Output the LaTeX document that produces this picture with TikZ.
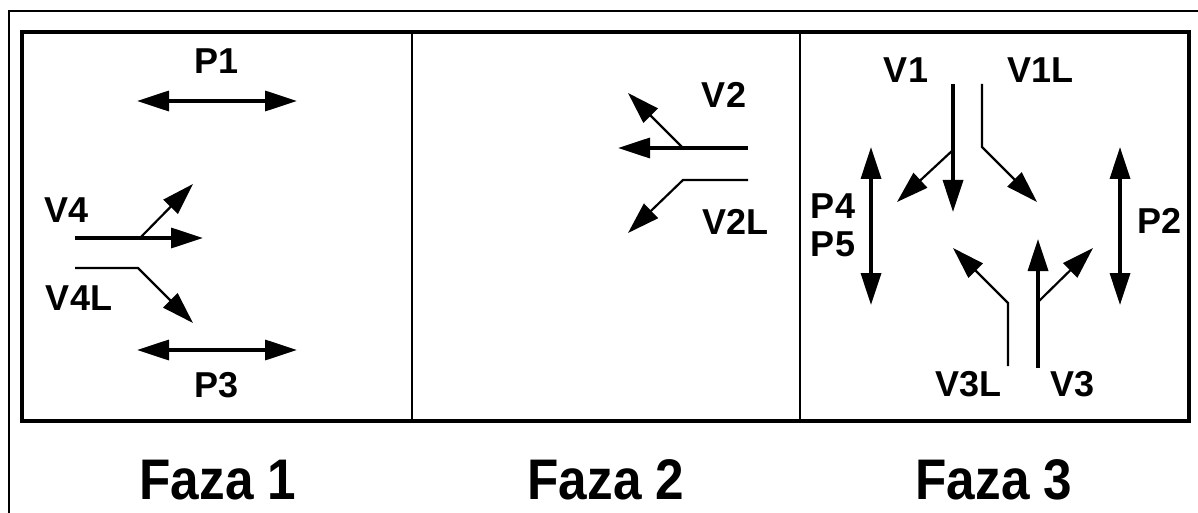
\documentclass[tikz,border=0pt]{standalone}
\usepackage{fontspec}
\setmainfont{Liberation Sans}
\usetikzlibrary{arrows.meta}
\tikzset{
  >={Triangle[length=32pt,width=20pt]},
  thk/.style={line width=3.4pt},
  thn/.style={line width=2.2pt},
  lbl/.style={font=\bfseries\fontsize{36}{36}\selectfont, inner sep=0pt},
  faza/.style={font=\bfseries\fontsize{54}{54}\selectfont, inner sep=0pt},
  frame/.style={line width=3.5pt},
  divider/.style={line width=2.8pt},
  outer/.style={line width=1.6pt}
}
\newcommand{\fz}[1]{\scalebox{0.95}[1.06]{#1}}
\begin{document}
\begin{tikzpicture}[x=1pt,y=-1pt]
\useasboundingbox (0,0) rectangle (1198,513);
% outer frame (partially visible)
\draw[outer] (9,513) -- (9,11) -- (1198,11);
% inner box and dividers
\draw[frame] (22,32) rectangle (1189,421);
\draw[divider] (412,32) -- (412,421);
\draw[divider] (800,32) -- (800,421);

% ---------- Faza 1 ----------
\node[lbl] (P1) at (217,61) {P1};
\coordinate (p1a) at (137,101); \coordinate (p1b) at (297,101);
\draw[thk,<->] (p1a) -- (p1b);
\node[lbl] (V4) at (67,210) {V4};
\coordinate (v4s) at (75,238); \coordinate (v4e) at (203,238);
\coordinate (v4j) at (140,238); \coordinate (v4r) at (193,184);
\draw[thk,->] (v4s) -- (v4e);
\draw[thn,->] (v4j) -- (v4r);
\node[lbl] (V4L) at (79,298) {V4L};
\coordinate (v4ls) at (75,268); \coordinate (v4lk) at (138,268); \coordinate (v4le) at (193,323);
\draw[thn,->] (v4ls) -- (v4lk) -- (v4le);
\coordinate (p3a) at (137,350); \coordinate (p3b) at (297,350);
\draw[thk,<->] (p3a) -- (p3b);
\node[lbl] (P3) at (217,385) {P3};

% ---------- Faza 2 ----------
\node[lbl] (V2) at (724,95) {V2};
\coordinate (v2s) at (748,148); \coordinate (v2e) at (618,148);
\coordinate (v2j) at (683,148); \coordinate (v2r) at (628,93);
\draw[thk,->] (v2s) -- (v2e);
\draw[thn,->] (v2j) -- (v2r);
\coordinate (v2ls) at (748,180); \coordinate (v2lk) at (683,180); \coordinate (v2le) at (628,233);
\draw[thn,->] (v2ls) -- (v2lk) -- (v2le);
\node[lbl] (V2L) at (735,222) {V2L};

% ---------- Faza 3 ----------
\node[lbl] (V1) at (906,70) {V1};
\node[lbl] (V1L) at (1040,70) {V1L};
\coordinate (v1s) at (953,84); \coordinate (v1e) at (953,212);
\coordinate (v1j) at (953,150); \coordinate (v1r) at (897,202);
\draw[thk,->] (v1s) -- (v1e);
\draw[thn,->] (v1j) -- (v1r);
\coordinate (v1ls) at (982,84); \coordinate (v1lk) at (982,147); \coordinate (v1le) at (1037,202);
\draw[thn,->] (v1ls) -- (v1lk) -- (v1le);
\coordinate (p4a) at (871,147); \coordinate (p4b) at (871,305);
\draw[thk,<->] (p4a) -- (p4b);
\node[lbl] (P4) at (833,206) {P4};
\node[lbl] (P5) at (833,244) {P5};
\coordinate (p2a) at (1120,147); \coordinate (p2b) at (1120,305);
\draw[thk,<->] (p2a) -- (p2b);
\node[lbl] (P2) at (1159,221) {P2};
\coordinate (v3ls) at (1008,366); \coordinate (v3lk) at (1008,303); \coordinate (v3le) at (953,248);
\draw[thn,->] (v3ls) -- (v3lk) -- (v3le);
\coordinate (v3s) at (1038,368); \coordinate (v3e) at (1038,239);
\coordinate (v3j) at (1038,302); \coordinate (v3r) at (1093,248);
\draw[thk,->] (v3s) -- (v3e);
\draw[thn,->] (v3j) -- (v3r);
\node[lbl] (V3L) at (968,384) {V3L};
\node[lbl] (V3) at (1072,384) {V3};

% ---------- phase captions ----------
\node[faza] (F1) at (218,480) {\fz{Faza 1}};
\node[faza] (F2) at (606,480) {\fz{Faza 2}};
\node[faza] (F3) at (994,480) {\fz{Faza 3}};
\end{tikzpicture}
\end{document}
